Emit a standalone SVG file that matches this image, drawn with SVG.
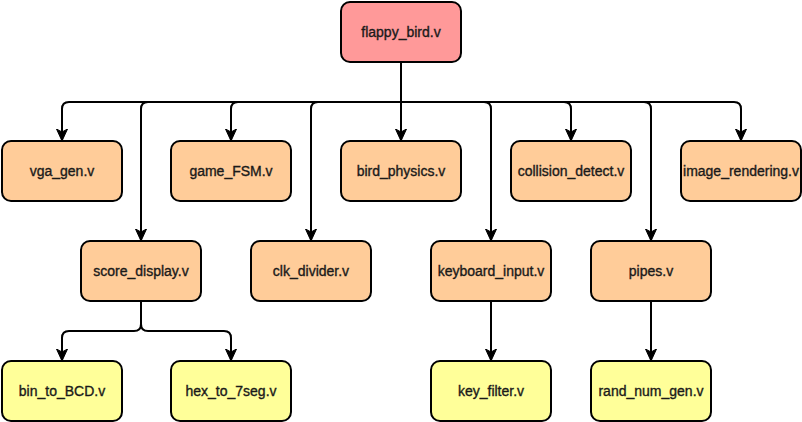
<svg xmlns="http://www.w3.org/2000/svg" width="802" height="422" viewBox="0 0 802 422">
<style>
.box{stroke:#000;stroke-width:2}
.top{fill:#FF9999}
.mid{fill:#FFCC99}
.leaf{fill:#FFFF99}
.lbl{font-family:"Liberation Sans",Arial,sans-serif;font-size:14px;fill:#1a1a1a;stroke:#1a1a1a;stroke-width:0.35;text-anchor:middle;dominant-baseline:central}
.edge{fill:none;stroke:#000;stroke-width:2;marker-end:url(#arr)}
</style>
<defs>
<marker id="arr" viewBox="0 -6 12 12" markerWidth="12" markerHeight="12" markerUnits="userSpaceOnUse" refX="11" refY="0" orient="auto">
<path d="M0,-5.5 L12,0 L0,5.5 L3,0 Z" fill="#000" stroke="#000" stroke-width="1"/>
</marker>
</defs>
<rect width="802" height="422" fill="#fff"/>
<g id="connectors">
<path class="edge" d="M401,62 L401,102 L69,102 Q62,102 62,109 L62,140"/>
<path class="edge" d="M401,62 L401,102 L238,102 Q231,102 231,109 L231,140"/>
<path class="edge" d="M401,62 L401,140"/>
<path class="edge" d="M401,62 L401,102 L564,102 Q571,102 571,109 L571,140"/>
<path class="edge" d="M401,62 L401,102 L734,102 Q741,102 741,109 L741,140"/>
<path class="edge" d="M401,62 L401,102 L148,102 Q141,102 141,109 L141,240"/>
<path class="edge" d="M401,62 L401,102 L318,102 Q311,102 311,109 L311,240"/>
<path class="edge" d="M401,62 L401,102 L484,102 Q491,102 491,109 L491,240"/>
<path class="edge" d="M401,62 L401,102 L644,102 Q651,102 651,109 L651,240"/>
<path class="edge" d="M141,301 L141,324 Q141,331 134,331 L69,331 Q62,331 62,338 L62,360"/>
<path class="edge" d="M141,301 L141,324 Q141,331 148,331 L224,331 Q231,331 231,338 L231,360"/>
<path class="edge" d="M491,301 L491,360"/>
<path class="edge" d="M651,301 L651,360"/>
</g>
<g id="flappy_bird"><rect class="box top" x="341" y="2" width="120" height="60" rx="9"/><text class="lbl" x="401" y="32">flappy_bird.v</text></g>
<g id="vga_gen"><rect class="box mid" x="2" y="141" width="120" height="60" rx="9"/><text class="lbl" x="62" y="171">vga_gen.v</text></g>
<g id="game_FSM"><rect class="box mid" x="171" y="141" width="120" height="60" rx="9"/><text class="lbl" x="231" y="171">game_FSM.v</text></g>
<g id="bird_physics"><rect class="box mid" x="341" y="141" width="120" height="60" rx="9"/><text class="lbl" x="401" y="171">bird_physics.v</text></g>
<g id="collision_detect"><rect class="box mid" x="511" y="141" width="120" height="60" rx="9"/><text class="lbl" x="571" y="171">collision_detect.v</text></g>
<g id="image_rendering"><rect class="box mid" x="681" y="141" width="120" height="60" rx="9"/><text class="lbl" x="741" y="171">image_rendering.v</text></g>
<g id="score_display"><rect class="box mid" x="81" y="241" width="120" height="60" rx="9"/><text class="lbl" x="141" y="271">score_display.v</text></g>
<g id="clk_divider"><rect class="box mid" x="251" y="241" width="120" height="60" rx="9"/><text class="lbl" x="311" y="271">clk_divider.v</text></g>
<g id="keyboard_input"><rect class="box mid" x="431" y="241" width="120" height="60" rx="9"/><text class="lbl" x="491" y="271">keyboard_input.v</text></g>
<g id="pipes"><rect class="box mid" x="591" y="241" width="120" height="60" rx="9"/><text class="lbl" x="651" y="271">pipes.v</text></g>
<g id="bin_to_BCD"><rect class="box leaf" x="2" y="361" width="120" height="60" rx="9"/><text class="lbl" x="62" y="391">bin_to_BCD.v</text></g>
<g id="hex_to_7seg"><rect class="box leaf" x="171" y="361" width="120" height="60" rx="9"/><text class="lbl" x="231" y="391">hex_to_7seg.v</text></g>
<g id="key_filter"><rect class="box leaf" x="431" y="361" width="120" height="60" rx="9"/><text class="lbl" x="491" y="391">key_filter.v</text></g>
<g id="rand_num_gen"><rect class="box leaf" x="591" y="361" width="120" height="60" rx="9"/><text class="lbl" x="651" y="391">rand_num_gen.v</text></g>
</svg>
